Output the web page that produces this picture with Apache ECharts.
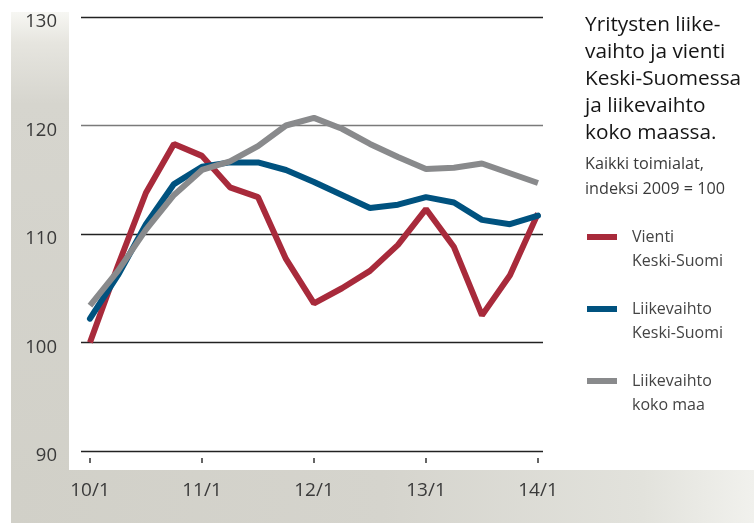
<!DOCTYPE html>
<html>
<head>
<meta charset="utf-8">
<script src="https://cdn.jsdelivr.net/npm/echarts@6/dist/echarts.min.js"></script>
<style>
  html, body { margin: 0; padding: 0; background: #fff; }
  #chart { width: 754px; height: 523px; }
</style>
</head>
<body>
<div id="chart"></div>
<script>
// Quarterly index values, 10/1 ... 14/1 (2009 = 100)
var quarters = ['10/1', '10/2', '10/3', '10/4', '11/1', '11/2', '11/3', '11/4',
                '12/1', '12/2', '12/3', '12/4', '13/1', '13/2', '13/3', '13/4', '14/1'];
var tickLabels = ['10/1', '11/1', '12/1', '13/1', '14/1'];
var tickIndex = [0, 4, 8, 12, 16];

var vientiKS = [100.0, 107.1, 113.8, 118.3, 117.2, 114.3, 113.4, 107.7, 103.6,
                105.0, 106.6, 109.0, 112.3, 108.8, 102.5, 106.2, 111.9];
var liikevaihtoKS = [102.2, 106.2, 110.9, 114.6, 116.2, 116.6, 116.6, 115.9, 114.8,
                     113.6, 112.4, 112.7, 113.4, 112.9, 111.3, 110.9, 111.7];
var liikevaihtoMaa = [103.4, 106.6, 110.4, 113.6, 115.9, 116.7, 118.1, 120.0, 120.7,
                      119.7, 118.3, 117.1, 116.0, 116.1, 116.5, 115.6, 114.7];

var seriesNames = ['Vienti\nKeski-Suomi', 'Liikevaihto\nKeski-Suomi', 'Liikevaihto\nkoko maa'];
var seriesColors = ['#a82a3b', '#00527f', '#898a8c'];

function toPoints(values) {
    return values.map(function (v, i) { return [i, v]; });
}

var font = '"Open Sans", "Noto Sans", sans-serif';

var chart = echarts.init(document.getElementById('chart'));

var option = {
    animation: false,
    textStyle: { fontFamily: font },

    // Background panels behind the axis labels
    graphic: [{
        type: 'rect',
        z: -10,
        shape: { x: 11, y: 12, width: 58, height: 511 },
        style: {
            fill: new echarts.graphic.LinearGradient(0, 0, 0, 1, [
                { offset: 0, color: '#f7f7f3' },
                { offset: 0.06, color: '#e6e5df' },
                { offset: 0.18, color: '#d6d5ce' },
                { offset: 1, color: '#d1d0c8' }
            ])
        }
    }, {
        type: 'rect',
        z: -10,
        shape: { x: 11, y: 470, width: 743, height: 53 },
        style: {
            fill: new echarts.graphic.LinearGradient(0, 0, 1, 0, [
                { offset: 0, color: '#d1d0c8' },
                { offset: 0.5, color: '#d5d4cd' },
                { offset: 0.85, color: '#e2e2dc' },
                { offset: 1, color: '#f1f1ed' }
            ])
        }
    }],

    title: {
        text: 'Yritysten liike-\nvaihto ja vienti\nKeski-Suomessa\nja liikevaihto\nkoko maassa.',
        subtext: 'Kaikki toimialat,\nindeksi 2009 = 100',
        left: 585,
        top: 12,
        padding: 0,
        itemGap: 5,
        textStyle: {
            fontFamily: font,
            fontWeight: 'normal',
            fontSize: 20.8,
            lineHeight: 27,
            color: '#151515'
        },
        subtextStyle: {
            fontFamily: font,
            fontSize: 16.2,
            lineHeight: 25,
            color: '#3a3a3a'
        }
    },

    legend: {
        orient: 'vertical',
        left: 587,
        top: 201,
        padding: 0,
        itemGap: 0,
        itemWidth: 30,
        itemHeight: 6,
        icon: 'rect',
        data: seriesNames,
        formatter: function (name) { return '\n' + name; },
        textStyle: {
            fontFamily: font,
            fontSize: 16,
            lineHeight: 24,
            color: '#444',
            padding: [0, 0, 0, 10]
        }
    },

    grid: {
        left: 81,
        right: 211,
        top: 17,
        bottom: 72,
        containLabel: false
    },

    xAxis: {
        type: 'value',
        min: -0.32,
        max: 16.18,
        offset: 7,
        axisLine: { show: false },
        splitLine: { show: false },
        axisTick: {
            show: true,
            length: 5,
            customValues: tickIndex,
            lineStyle: { color: '#333', width: 1.5 }
        },
        axisLabel: {
            margin: 23,
            fontSize: 19,
            color: '#3a3a3a',
            customValues: tickIndex,
            formatter: function (v) {
                return tickLabels[tickIndex.indexOf(Math.round(v))];
            }
        }
    },

    yAxis: {
        type: 'value',
        min: 90,
        max: 130,
        interval: 10,
        axisLine: { show: false },
        axisTick: { show: false },
        axisLabel: {
            margin: 24,
            fontSize: 18.5,
            color: '#3a3a3a',
            verticalAlign: 'top',
            lineHeight: 10
        },
        splitLine: {
            lineStyle: {
                color: ['#222', '#222', '#222', '#7a7a7a', '#222'],
                width: 1.4
            }
        }
    },

    series: [{
        name: seriesNames[0],
        type: 'line',
        data: toPoints(vientiKS),
        symbol: 'none',
        color: seriesColors[0],
        lineStyle: { width: 6, color: seriesColors[0] },
        z: 3
    }, {
        name: seriesNames[1],
        type: 'line',
        data: toPoints(liikevaihtoKS),
        symbol: 'none',
        color: seriesColors[1],
        lineStyle: { width: 6, color: seriesColors[1], cap: 'round' },
        z: 4
    }, {
        name: seriesNames[2],
        type: 'line',
        data: toPoints(liikevaihtoMaa),
        symbol: 'none',
        color: seriesColors[2],
        lineStyle: { width: 6, color: seriesColors[2] },
        z: 5
    }]
};

chart.setOption(option);

window.onresize = function () {
    setTimeout(function () {
        chart.resize();
    }, 200);
};
</script>
</body>
</html>
